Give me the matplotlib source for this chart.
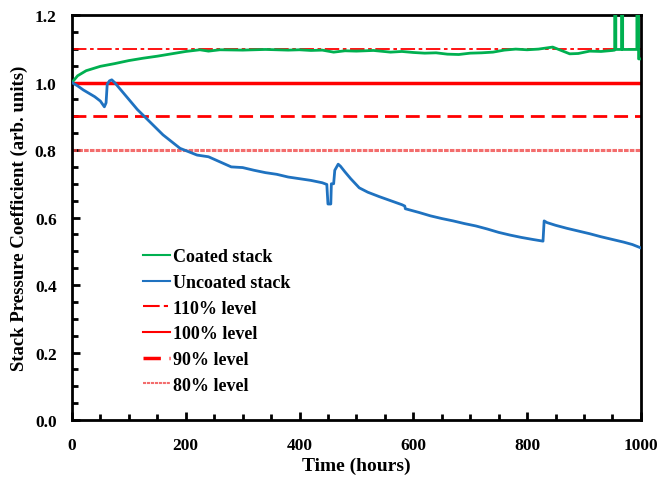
import matplotlib.pyplot as plt
from matplotlib.ticker import MultipleLocator

plt.rcParams['font.family'] = ['Liberation Serif', 'DejaVu Serif']
plt.rcParams['font.weight'] = 'bold'

# coated stack (hours, coefficient)
coated_t = [0, 10, 25, 50, 75, 100, 125, 150, 175, 200, 225, 240, 260, 300, 340,
            380, 400, 420, 440, 460, 480, 500, 530, 560, 580, 600, 620, 640, 660,
            680, 700, 720, 740, 760, 780, 800, 820, 845, 860, 875, 890, 910, 930,
            950, 954, 954, 956, 956, 966, 966, 968, 968, 993, 993, 996, 996, 1000]
coated_v = [1.0, 1.02, 1.035, 1.048, 1.056, 1.065, 1.072, 1.078, 1.085, 1.092,
            1.097, 1.093, 1.097, 1.096, 1.098, 1.096, 1.097, 1.095, 1.096, 1.09,
            1.094, 1.093, 1.095, 1.09, 1.092, 1.089, 1.087, 1.088, 1.084, 1.083,
            1.087, 1.088, 1.09, 1.096, 1.099, 1.097, 1.099, 1.105, 1.095, 1.085,
            1.086, 1.093, 1.092, 1.095, 1.096, 1.25, 1.25, 1.098, 1.098, 1.25, 1.25,
            1.098, 1.098, 1.25, 1.25, 1.07, 1.07]

# uncoated stack (hours, coefficient)
uncoated_t = [0, 10, 20, 30, 40, 50, 57, 60, 62, 66, 70, 75, 85, 100, 115, 130,
              145, 160, 175, 190, 205, 220, 240, 260, 280, 300, 320, 340, 360, 380,
              400, 420, 440, 448, 450, 455, 456, 460, 462, 468, 472, 480, 490, 505,
              520, 540, 560, 580, 585, 586, 610, 630, 650, 670, 690, 710, 730, 750,
              770, 790, 810, 828, 830, 835, 850, 870, 890, 910, 930, 950, 970, 985,
              1000]
uncoated_v = [1.0, 0.99, 0.978, 0.968, 0.958, 0.945, 0.928, 0.94, 0.995, 1.005,
              1.008, 1.0, 0.98, 0.95, 0.92, 0.895, 0.87, 0.845, 0.825, 0.805, 0.795,
              0.785, 0.78, 0.765, 0.75, 0.748, 0.74, 0.733, 0.728, 0.72, 0.715, 0.71,
              0.703, 0.698, 0.64, 0.64, 0.70, 0.70, 0.74, 0.758, 0.752, 0.735, 0.715,
              0.688, 0.675, 0.662, 0.65, 0.638, 0.634, 0.626, 0.615, 0.605, 0.597,
              0.59, 0.582, 0.575, 0.566, 0.556, 0.548, 0.541, 0.535, 0.53, 0.59,
              0.585, 0.577, 0.568, 0.56, 0.552, 0.543, 0.535, 0.527, 0.52, 0.51]

levels = [1.1, 1.0, 0.9, 0.8]
level_labels = ['110% level', '100% level', '90% level', '80% level']

fig = plt.figure(figsize=(6.6, 4.81), dpi=100)
ax = fig.add_axes([0.109, 0.1247, 0.862, 0.842])

ax.plot(coated_t, coated_v, color='#00b050', lw=2, label='Coated stack', zorder=4)
ax.plot(uncoated_t, uncoated_v, color='#1f72c0', lw=2, label='Uncoated stack', zorder=4)

ax.axhline(levels[0], color='red', lw=1.3, ls=(0, (8, 2, 2, 2)), label=level_labels[0])
ax.axhline(levels[1], color='red', lw=2.5, ls='-', label=level_labels[1])
ax.axhline(levels[2], color='red', lw=2, ls=(0, (5, 2.5)), label=level_labels[2])
ax.axhline(levels[3], color='#f04848', lw=2.2, ls=(0, (1.5, 0.4)), alpha=0.8,
           label=level_labels[3])

ax.set_xlim(0, 1000)
ax.set_ylim(0, 1.2)
ax.xaxis.set_major_locator(MultipleLocator(200))
ax.xaxis.set_minor_locator(MultipleLocator(50))
ax.yaxis.set_major_locator(MultipleLocator(0.2))
ax.yaxis.set_minor_locator(MultipleLocator(0.05))
ax.yaxis.set_major_formatter(lambda v, p: f'{v:.1f}')
ax.tick_params(which='both', direction='in', width=2, labelsize=12.5, top=False, right=False)
ax.tick_params(which='major', length=6)
ax.tick_params(axis='x', which='major', pad=12)
ax.tick_params(axis='y', which='major', pad=11)
ax.tick_params(which='minor', length=4)
for s in ax.spines.values():
    s.set_linewidth(2)

ax.set_xlabel('Time (hours)', fontsize=14, fontweight='bold', labelpad=3)
ax.set_ylabel('Stack Pressure Coefficient (arb. units)', fontsize=13.5, fontweight='bold',
              labelpad=5)

leg = ax.legend(loc='upper left', bbox_to_anchor=(0.125, 0.424), frameon=False, fontsize=13,
                handlelength=1.5, handletextpad=0.15, labelspacing=0.48, borderpad=0,
                borderaxespad=0)
for ln in leg.get_lines():
    ln.set_linewidth(1.5)
leg.get_lines()[4].set_linewidth(2.5)

fig.savefig('out.png', dpi=100)
